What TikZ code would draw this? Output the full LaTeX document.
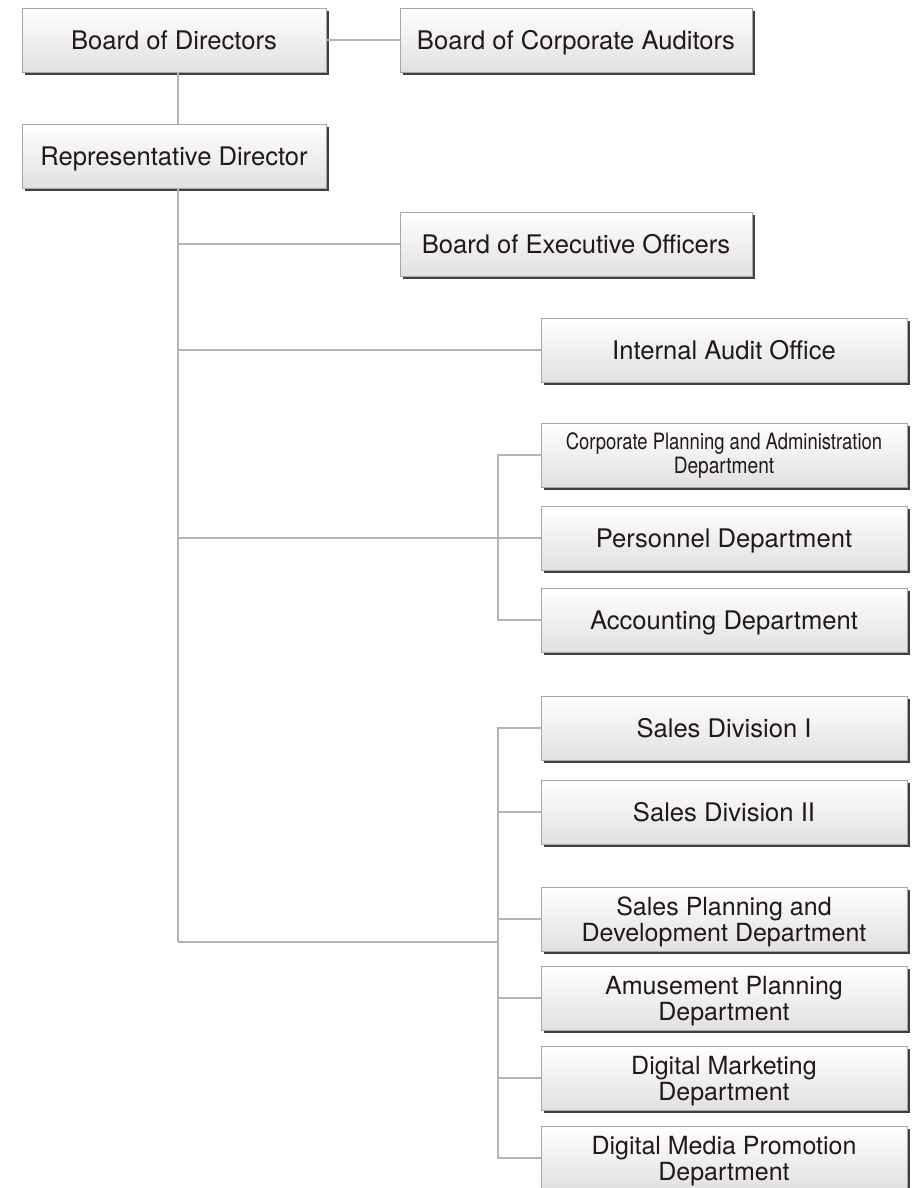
\documentclass[tikz,border=0pt]{standalone}
\usepackage{fontspec}
\setmainfont{TeX Gyre Heros}
\usetikzlibrary{shadows}
\definecolor{txt}{HTML}{231815}
\definecolor{linec}{HTML}{B4B4B4}
\begin{document}
\begin{tikzpicture}[x=1pt,y=-1pt,
  box/.style={draw=black!35, line width=0.7pt, top color=white, bottom color=black!12,
    inner sep=0pt, minimum height=64pt, text=txt, align=center,
    font=\fontsize{25.6}{28}\selectfont, text height=19.5pt, text depth=0pt,
    drop shadow={shadow xshift=2.5pt, shadow yshift=-3pt, fill=black!75, opacity=1}},
  wide/.style={minimum width=304pt},
  mid/.style={minimum width=352pt},
  right/.style={minimum width=366pt},
  two/.style={font=\fontsize{25}{26}\selectfont, text height=44pt, text depth=0pt},
  cond/.style={font=\fontsize{22.5}{24}\selectfont, text height=36pt, text depth=0pt},
  conn/.style={draw=linec, line width=2pt}]
\useasboundingbox (0,0) rectangle (912,1188);
\fill[white] (0,0) rectangle (912,1188);

\coordinate (tr) at (178,942);
\coordinate (ab) at (498,538);
\coordinate (sb) at (498,942);

\node[box,wide] (bod) at (174,40) {Board of Directors};
\node[box,mid] (bca) at (576,40) {Board of Corporate Auditors};
\node[box,wide] (rd) at (174,156) {Representative Director};
\node[box,mid] (beo) at (576,244) {Board of Executive Officers};
\node[box,right] (iao) at (724,350) {Internal Audit Office};
\node[box,right,cond] (cpa) at (724,455) {\scalebox{0.82}[1]{Corporate Planning and Administration}\\\scalebox{0.85}[1]{Department}};
\node[box,right] (per) at (724,538) {Personnel Department};
\node[box,right] (acc) at (724,620) {Accounting Department};
\node[box,right] (sd1) at (724,728) {Sales Division I};
\node[box,right] (sd2) at (724,812) {Sales Division II};
\node[box,right,two] (spd) at (724,919) {Sales Planning and\\Development Department};
\node[box,right,two] (amp) at (724,998) {Amusement Planning\\Department};
\node[box,right,two] (dmk) at (724,1078) {Digital Marketing\\Department};
\node[box,right,two] (dmp) at (724,1158) {Digital Media Promotion\\Department};

\draw[conn] (bod.east) -- (bca.west);
\draw[conn] (bod.south -| tr) -- (rd.north -| tr);
\draw[conn] (rd.south -| tr) -- (tr);
\draw[conn] (beo.west -| tr) -- (beo.west);
\draw[conn] (iao.west -| tr) -- (iao.west);
\draw[conn] (per.west -| tr) -- (per.west);
\draw[conn] (cpa.west) -- (cpa.west -| ab) -- (acc.west -| ab) -- (acc.west);
\draw[conn] (tr) -- (sb);
\draw[conn] (sd1.west) -- (sd1.west -| sb) -- (dmp.west -| sb) -- (dmp.west);
\draw[conn] (sd2.west -| sb) -- (sd2.west);
\draw[conn] (spd.west -| sb) -- (spd.west);
\draw[conn] (amp.west -| sb) -- (amp.west);
\draw[conn] (dmk.west -| sb) -- (dmk.west);
\end{tikzpicture}
\end{document}
